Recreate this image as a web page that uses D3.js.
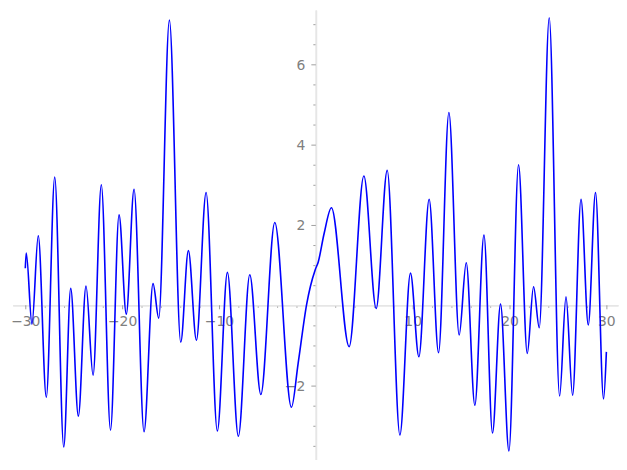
<!DOCTYPE html>
<html>
<head>
<meta charset="utf-8">
<script src="https://cdn.jsdelivr.net/npm/d3@7"></script>
<style>
 body{margin:0;background:#fff;}
 svg{display:block;}
 .tick text{font-family:"DejaVu Sans",sans-serif;font-size:13.9px;fill:#808080;}
</style>
</head>
<body>
<div id="chartDiv"></div>
<script>
// Curve: extrema plus a few shoulder points
var xPts = [-30.0,-29.9,-29.31,-28.66,-27.83,-26.96,-26.03,-25.31,-24.52,-23.73,-23.0,-22.15,
 -21.2,-20.32,-19.57,-18.77,-17.74,-16.81,-16.22,-15.12,-13.95,-13.16,-12.33,-11.33,
 -10.17,-9.13,-8.0,-6.82,-5.68,-4.24,-2.52,-1.83,-0.93,-0.55,-0.07,0.25,0.85,1.61,
 3.44,4.96,6.23,7.37,8.68,9.77,10.64,11.70,12.67,13.74,14.80,15.53,16.42,17.36,
 18.24,19.07,19.94,20.93,21.83,22.48,23.07,24.10,25.17,25.83,26.51,27.38,28.13,
 28.88,29.71,30.0];
var yPts = [0.92,1.30,-0.47,1.73,-2.29,3.19,-3.53,0.42,-2.76,0.48,-1.74,3.0,
 -3.11,2.25,-0.22,2.89,-3.15,0.54,-0.32,7.10,-0.92,1.36,-0.87,2.81,
 -3.13,0.82,-3.26,0.76,-2.22,2.06,-2.54,-1.45,0.05,0.48,0.88,1.08,1.78,2.43,
 -1.03,3.22,-0.08,3.36,-3.23,0.80,-1.28,2.64,-1.18,4.80,-0.74,1.06,-2.49,1.75,
 -3.18,0.03,-3.63,3.50,-1.20,0.46,-0.56,7.16,-2.26,0.21,-2.24,2.64,-0.49,
 2.81,-2.33,-1.16];

var xMajor = [-30,-20,-10,10,20,30];
var xMinor = [-28,-26,-24,-22,-18,-16,-14,-12,-8,-6,-4,-2,2,4,6,8,12,14,16,18,22,24,26,28];
var yMajor = [-2,2,4,6];
var yMinor = [-3.5,-3,-2.5,-1.5,-1,-0.5,0,0.5,1,1.5,2.5,3,3.5,4.5,5,5.5,6.5,7];

var width = 627, height = 470;

var xScale = d3.scaleLinear().domain([-31.3, 31.2]).range([12.7, 618]);
var yScale = d3.scaleLinear().domain([-3.84, 7.35]).range([459.5, 10.1]);

var data = xPts.map(function(x,i){ return {x: x, y: yPts[i]}; });

var svg = d3.select("#chartDiv").append("svg")
 .attr("width", width)
 .attr("height", height);

function styleAxis(g){
 g.select(".domain").attr("stroke","#e6e6e6").attr("stroke-width",1.6);
 g.selectAll(".tick line").attr("stroke","#888").attr("stroke-width",0.8);
}

// x axis, minor ticks first
svg.append("g")
 .attr("transform","translate(0," + yScale(0) + ")")
 .call(d3.axisBottom(xScale).tickValues(xMinor).tickSize(2.5).tickSizeOuter(0).tickFormat(""))
 .call(styleAxis);
svg.append("g")
 .attr("transform","translate(0," + yScale(0) + ")")
 .call(d3.axisBottom(xScale).tickValues(xMajor).tickSize(4).tickSizeOuter(0)
   .tickFormat(function(d){ return d3.format("d")(d).replace("-","\u2212"); }))
 .call(styleAxis)
 .call(function(g){ g.selectAll(".tick text").attr("y",11).attr("dy","0.72em"); });

// y axis
svg.append("g")
 .attr("transform","translate(" + xScale(0) + ",0)")
 .call(d3.axisLeft(yScale).tickValues(yMinor).tickSize(2.5).tickSizeOuter(0).tickFormat(""))
 .call(styleAxis);
svg.append("g")
 .attr("transform","translate(" + xScale(0) + ",0)")
 .call(d3.axisLeft(yScale).tickValues(yMajor).tickSize(4.5).tickSizeOuter(0)
   .tickFormat(function(d){ return d3.format("d")(d).replace("-","\u2212"); }))
 .call(styleAxis)
 .call(function(g){ g.selectAll(".tick text").attr("x",-10.5).attr("dy","0.36em"); });

var line = d3.line()
 .x(function(d){ return xScale(d.x); })
 .y(function(d){ return yScale(d.y); })
 .curve(d3.curveMonotoneX);

svg.append("path")
 .datum(data)
 .attr("fill","none")
 .attr("stroke","#0000ff")
 .attr("stroke-width",1.6)
 .attr("stroke-linejoin","round")
 .attr("d", line);
</script>
</body>
</html>
